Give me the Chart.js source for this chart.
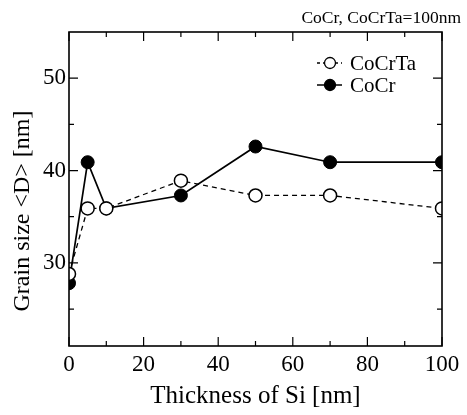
<!DOCTYPE html>
<html>
<head>
<meta charset="utf-8">
<script src="https://cdn.jsdelivr.net/npm/chart.js@4.4.0/dist/chart.umd.min.js"></script>
<style>
  html, body { margin: 0; padding: 0; background: #fff; }
  #wrap { width: 467px; height: 415px; }
</style>
</head>
<body>
<div id="wrap"><canvas id="chart" width="467" height="415"></canvas></div>
<script>
// values
const thickness = [0, 5, 10, 30, 50, 70, 100];
const cocrta = [28.8, 35.9, 35.9, 38.9, 37.3, 37.3, 35.9];
const cocr = [27.8, 40.9, 35.9, 37.3, 42.6, 40.9, 40.9];

const xTicks = [0, 10, 20, 30, 40, 50, 60, 70, 80, 90, 100];
const yTicks = [25, 30, 35, 40, 45, 50];
const xLabelEvery = 20;
const yLabelEvery = 10;

const serif = "'Liberation Serif', 'DejaVu Serif', serif";

// frame, inward ticks on all four sides, legend, y title and corner note
const framePlugin = {
  id: 'frame',
  afterDraw(chart) {
    const ctx = chart.ctx;
    const a = chart.chartArea;
    const xs = chart.scales.x, ys = chart.scales.y;
    ctx.save();
    ctx.strokeStyle = '#000';
    ctx.lineWidth = 1.6;
    ctx.strokeRect(a.left, a.top, a.right - a.left, a.bottom - a.top);

    ctx.lineWidth = 1.2;
    xTicks.forEach(v => {
      const px = xs.getPixelForValue(v);
      const len = v % xLabelEvery === 0 ? 9 : 5;
      ctx.beginPath();
      ctx.moveTo(px, a.bottom); ctx.lineTo(px, a.bottom - len);
      ctx.moveTo(px, a.top); ctx.lineTo(px, a.top + len);
      ctx.stroke();
    });
    yTicks.forEach(v => {
      const py = ys.getPixelForValue(v);
      const len = v % yLabelEvery === 0 ? 9 : 5;
      ctx.beginPath();
      ctx.moveTo(a.left, py); ctx.lineTo(a.left + len, py);
      ctx.moveTo(a.right, py); ctx.lineTo(a.right - len, py);
      ctx.stroke();
    });

    ctx.fillStyle = '#000';

    // y axis title, sits a little below the middle in the original
    ctx.save();
    ctx.translate(23, 211);
    ctx.rotate(-Math.PI / 2);
    ctx.font = '24px ' + serif;
    ctx.textAlign = 'center';
    ctx.textBaseline = 'middle';
    ctx.fillText('Grain size <D> [nm]', 0, 0);
    ctx.restore();

    // corner note
    ctx.font = '17.5px ' + serif;
    ctx.textAlign = 'right';
    ctx.textBaseline = 'alphabetic';
    ctx.fillText('CoCr, CoCrTa=100nm', 461, 23);

    // legend
    const items = [
      { label: 'CoCrTa', dash: [3, 3], fill: '#fff', y: 63 },
      { label: 'CoCr', dash: [], fill: '#000', y: 85 }
    ];
    ctx.font = '21px ' + serif;
    ctx.textAlign = 'left';
    ctx.textBaseline = 'middle';
    items.forEach(it => {
      const x0 = 317, x1 = 342, cx = 330;
      ctx.setLineDash(it.dash);
      ctx.lineWidth = 1.5;
      ctx.beginPath(); ctx.moveTo(x0, it.y); ctx.lineTo(x1, it.y); ctx.stroke();
      ctx.setLineDash([]);
      ctx.beginPath(); ctx.arc(cx, it.y, 5.5, 0, Math.PI * 2);
      ctx.fillStyle = it.fill; ctx.fill();
      ctx.lineWidth = 1.3; ctx.stroke();
      ctx.fillStyle = '#000';
      ctx.fillText(it.label, 350, it.y + 1);
    });
    ctx.restore();
  }
};

new Chart(document.getElementById('chart'), {
  type: 'line',
  data: {
    datasets: [
      {
        label: 'CoCrTa',
        data: thickness.map((x, i) => ({ x: x, y: cocrta[i] })),
        borderColor: '#000',
        borderWidth: 1.3,
        borderDash: [5, 4],
        pointRadius: 6.5,
        pointBorderWidth: 1.5,
        pointBackgroundColor: '#fff',
        pointBorderColor: '#000',
        tension: 0
      },
      {
        label: 'CoCr',
        data: thickness.map((x, i) => ({ x: x, y: cocr[i] })),
        borderColor: '#000',
        borderWidth: 1.7,
        pointRadius: 6.5,
        pointBorderWidth: 1,
        pointBackgroundColor: '#000',
        pointBorderColor: '#000',
        tension: 0
      }
    ]
  },
  options: {
    responsive: false,
    animation: false,
    layout: { padding: { top: 32, right: 25, left: 0, bottom: 0 } },
    plugins: { legend: { display: false }, tooltip: { enabled: false } },
    scales: {
      x: {
        type: 'linear',
        min: 0, max: 100,
        afterBuildTicks: s => { s.ticks = xTicks.map(v => ({ value: v })); },
        afterFit: s => { s.height = 69; },
        grid: { display: false, drawTicks: false },
        border: { display: false },
        ticks: {
          autoSkip: false,
          maxRotation: 0,
          padding: 5,
          color: '#000',
          font: { family: serif, size: 23 },
          callback: v => (v % xLabelEvery === 0 ? String(v) : '')
        },
        title: {
          display: true,
          text: 'Thickness of Si [nm]',
          color: '#000',
          font: { family: serif, size: 25 },
          padding: { top: 2 }
        }
      },
      y: {
        min: 21, max: 55,
        afterBuildTicks: s => { s.ticks = yTicks.map(v => ({ value: v })); },
        afterFit: s => { s.width = 69; },
        grid: { display: false, drawTicks: false },
        border: { display: false },
        ticks: {
          autoSkip: false,
          padding: 3,
          color: '#000',
          font: { family: serif, size: 23 },
          callback: v => (v % yLabelEvery === 0 ? String(v) : '')
        },
        title: { display: false }
      }
    }
  },
  plugins: [framePlugin]
});
</script>
</body>
</html>
